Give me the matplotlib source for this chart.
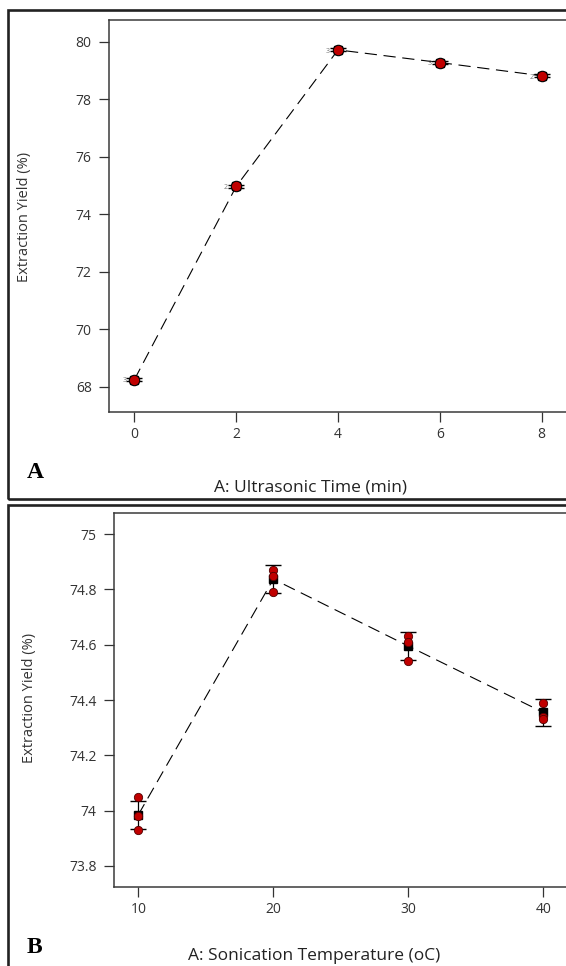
import numpy as np
import matplotlib
matplotlib.use("Agg")
import matplotlib.pyplot as plt
from matplotlib.patches import Rectangle

plt.rcParams['font.family'] = ['Open Sans', 'DejaVu Sans']

# panel A: ultrasonic time
time_min = [0, 2, 4, 6, 8]
yield_a = [68.25, 74.97, 79.72, 79.28, 78.82]
lsd_a = [0.05, 0.05, 0.05, 0.05, 0.05]
count_a = ['3', '2', '3', '3', '2']

# panel B: sonication temperature
temp_c = [10, 20, 30, 40]
pred_b = [73.985, 74.837, 74.595, 74.355]
lsd_b = [0.05, 0.05, 0.05, 0.05]
runs_b = [[74.05, 73.98, 73.93],
          [74.87, 74.85, 74.79],
          [74.63, 74.61, 74.54],
          [74.39, 74.34, 74.33]]

W, H = 566, 966
fig = plt.figure(figsize=(W / 100, H / 100), dpi=100)


def px_axes(left, top, right, bottom):
    return fig.add_axes([left / W, 1 - bottom / H, (right - left) / W, (bottom - top) / H])


def style(ax):
    for s in ax.spines.values():
        s.set_color('#3a3a3a')
        s.set_linewidth(1.1)
    ax.tick_params(direction='out', length=7.5, width=0.9, color='#333333',
                   labelcolor='#333333', labelsize=10)
    ax.tick_params(axis='y', pad=5)
    ax.tick_params(axis='x', pad=3.5)


# outer frames
fig.patches.append(Rectangle((8 / W, 1 - 499 / H), 600 / W, 489 / H, transform=fig.transFigure,
                             fill=False, edgecolor='#222222', linewidth=1.9))
fig.patches.append(Rectangle((8 / W, 1 - 1000 / H), 600 / W, 495 / H, transform=fig.transFigure,
                             fill=False, edgecolor='#222222', linewidth=1.9))

# ---- panel A
axa = px_axes(109, 20, 567, 412)
style(axa)
axa.plot(time_min, yield_a, color='black', lw=0.8, dashes=(11, 6), zorder=2)
axa.errorbar(time_min, yield_a, yerr=lsd_a, fmt='none', ecolor='black', elinewidth=0.9,
             capsize=6, capthick=1.0, zorder=3)
axa.plot(time_min, yield_a, 's', color='black', markersize=6, zorder=4)
axa.plot(time_min, yield_a, 'o', markerfacecolor='#c00000', markeredgecolor='black',
         markeredgewidth=0.8, markersize=7.5, zorder=5)
for x, y, c in zip(time_min, yield_a, count_a):
    axa.text(x - 0.2, y - 0.05, c, fontsize=5, color='#777777', ha='center', va='center', zorder=6)
axa.set_xlim(-0.5, 8.5)
axa.set_ylim(67.12, 80.76)
axa.set_xticks([0, 2, 4, 6, 8])
axa.set_yticks([68, 70, 72, 74, 76, 78, 80])

fig.text(25 / W, 1 - 217 / H, 'Extraction Yield (%)', rotation=90, ha='center', va='center',
         fontsize=10.5, color='#333333')
fig.text(310 / W, 1 - 488 / H, 'A: Ultrasonic Time (min)', ha='center', va='center',
         fontsize=12.5, color='#222222')
fig.text(27 / W, 1 - 478 / H, 'A', fontsize=17, fontweight='bold', family='Liberation Serif',
         ha='left', va='baseline', color='black')

# ---- panel B
axb = px_axes(114, 513, 567, 887)
style(axb)
axb.plot(temp_c, pred_b, color='black', lw=0.8, dashes=(11, 6), zorder=2)
axb.errorbar(temp_c, pred_b, yerr=lsd_b, fmt='none', ecolor='black', elinewidth=0.9,
             capsize=6, capthick=1.0, zorder=3)
axb.plot(temp_c, pred_b, 's', color='black', markersize=6, zorder=4)
for x, ys in zip(temp_c, runs_b):
    axb.plot([x] * len(ys), ys, 'o', markerfacecolor='#c00000', markeredgecolor='#500000',
             markeredgewidth=0.6, markersize=6, zorder=5)
axb.set_xlim(8.2, 41.75)
axb.set_ylim(73.724, 75.076)
axb.set_xticks([10, 20, 30, 40])
axb.set_yticks([73.8, 74, 74.2, 74.4, 74.6, 74.8, 75])
axb.set_yticklabels(['73.8', '74', '74.2', '74.4', '74.6', '74.8', '75'])

fig.text(29 / W, 1 - 698 / H, 'Extraction Yield (%)', rotation=90, ha='center', va='center',
         fontsize=10.5, color='#333333')
fig.text(314 / W, 1 - 956 / H, 'A: Sonication Temperature (oC)', ha='center', va='center',
         fontsize=12.5, color='#222222')
fig.text(27 / W, 1 - 953 / H, 'B', fontsize=17, fontweight='bold', family='Liberation Serif',
         ha='left', va='baseline', color='black')

fig.savefig('out.png', dpi=100)
